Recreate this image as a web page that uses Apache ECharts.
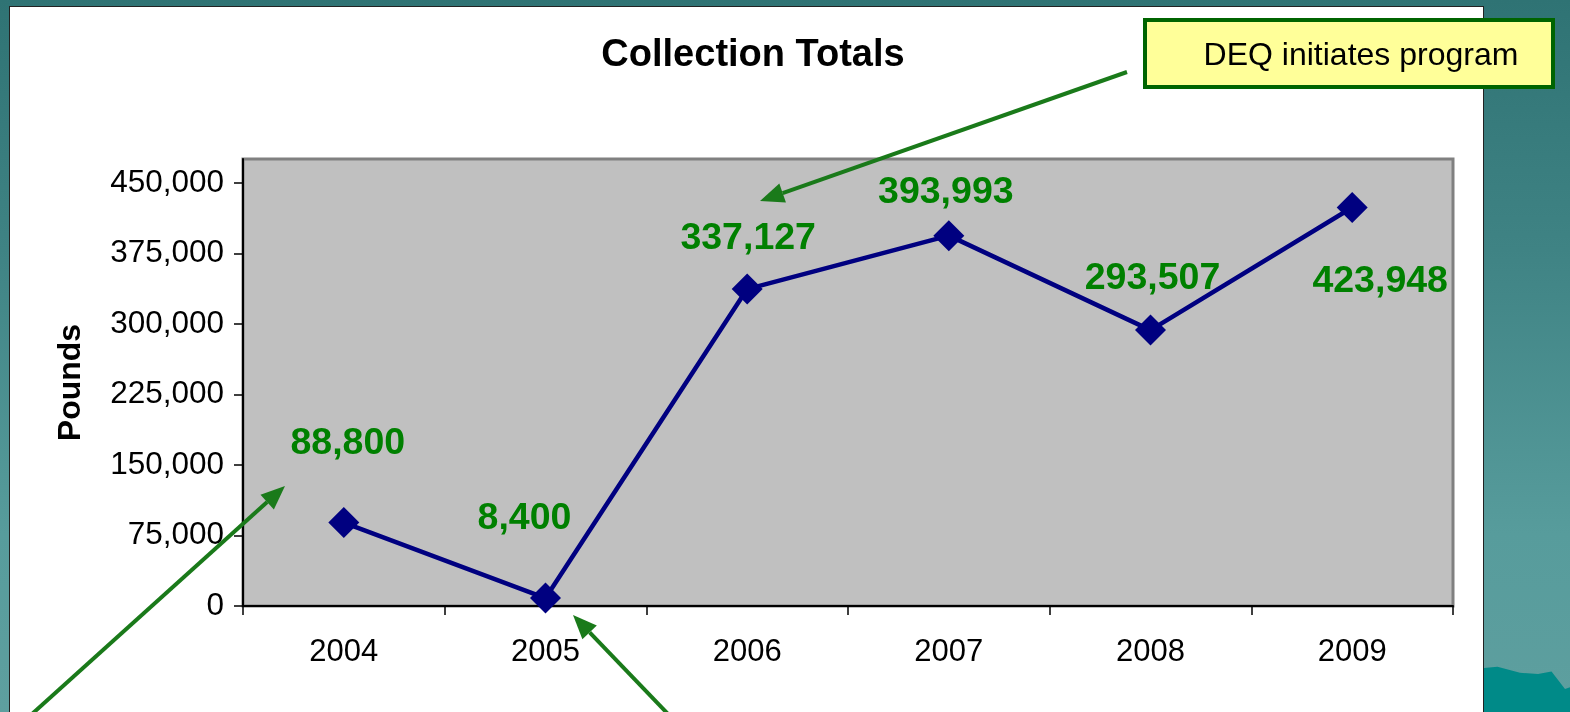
<!DOCTYPE html>
<html>
<head>
<meta charset="utf-8">
<script src="https://cdn.jsdelivr.net/npm/echarts@6/dist/echarts.min.js"></script>
<style>
  html, body { margin: 0; padding: 0; width: 1570px; height: 712px; overflow: hidden; }
  body { background: linear-gradient(180deg, #2f7374 0%, #3f8384 35%, #579c9c 75%, #5e9f9f 100%); position: relative; }
  #panel { position: absolute; left: 9px; top: 6px; width: 1475px; height: 720px; background: #ffffff; border: 1px solid #222; box-sizing: border-box; }
  #deco { position: absolute; left: 1484px; top: 662px; width: 90px; height: 60px; background: #008a88; clip-path: polygon(0 10%, 15% 8%, 40% 18%, 60% 20%, 75% 16%, 90% 45%, 100% 40%, 100% 100%, 0 100%); }
  #chart { position: absolute; left: 0; top: 0; width: 1570px; height: 712px; }
</style>
</head>
<body>
<div id="panel"></div>
<div id="deco"></div>
<div id="chart"></div>
<script>
const categories = ['2004', '2005', '2006', '2007', '2008', '2009'];
const pounds = [88800, 8400, 337127, 393993, 293507, 423948];
const yTicks = [0, 75000, 150000, 225000, 300000, 375000, 450000];
const titleText = 'Collection Totals';
const yAxisName = 'Pounds';
const calloutText = 'DEQ initiates program';

// label offsets relative to each point (style only)
const labelOffsets = [[4, -79], [-21, -79], [1, -50], [-3, -43], [2, -51], [28, 74]];

const green = '#008000';
const arrowGreen = '#1a7a1a';

function arrow(x1, y1, x2, y2) {
  const ang = Math.atan2(y2 - y1, x2 - x1);
  const L = 24, W = 10;
  const bx = x2 - L * Math.cos(ang), by = y2 - L * Math.sin(ang);
  const px = -Math.sin(ang) * W, py = Math.cos(ang) * W;
  return [
    { type: 'line', z: 100, shape: { x1: x1, y1: y1, x2: bx, y2: by }, style: { stroke: arrowGreen, lineWidth: 4 } },
    { type: 'polygon', z: 100, shape: { points: [[x2, y2], [bx + px, by + py], [bx - px, by - py]] }, style: { fill: arrowGreen } }
  ];
}

const chart = echarts.init(document.getElementById('chart'), null, { renderer: 'canvas' });
const option = {
  backgroundColor: 'transparent',
  animation: false,
  title: {
    text: titleText,
    left: 748, top: 32, textAlign: 'center',
    textStyle: { fontFamily: 'Liberation Sans', fontWeight: 'bold', fontSize: 38, color: '#000' }
  },
  grid: {
    left: 243, right: 117, top: 159, bottom: 106,
    show: true, backgroundColor: '#c0c0c0', borderColor: '#808080', borderWidth: 3
  },
  xAxis: {
    type: 'category',
    data: categories,
    boundaryGap: true,
    axisLine: { lineStyle: { color: '#000', width: 2 } },
    axisTick: { show: true, length: 9, lineStyle: { color: '#000', width: 1.5 } },
    axisLabel: { color: '#000', fontFamily: 'Liberation Sans', fontSize: 31, margin: 31 },
    splitLine: { show: false }
  },
  yAxis: {
    type: 'value',
    min: 0,
    max: 450000 * 447 / 423,
    name: yAxisName,
    nameLocation: 'middle',
    nameGap: 156,
    nameRotate: 90,
    nameTextStyle: { fontFamily: 'Liberation Sans', fontWeight: 'bold', fontSize: 32, color: '#000' },
    axisLine: { show: true, lineStyle: { color: '#000', width: 2 } },
    axisTick: { show: true, length: 9, customValues: yTicks, lineStyle: { color: '#000', width: 1.5 } },
    axisLabel: {
      color: '#000', fontFamily: 'Liberation Sans', fontSize: 31.5, margin: 19,
      customValues: yTicks,
      formatter: v => v.toLocaleString('en-US')
    },
    splitLine: { show: false }
  },
  series: [{
    type: 'line',
    data: pounds.map((v, i) => ({
      value: v,
      label: { offset: labelOffsets[i] }
    })),
    symbol: 'diamond',
    symbolSize: 31,
    lineStyle: { color: '#000080', width: 4.5 },
    itemStyle: { color: '#000080' },
    label: {
      show: true,
      position: 'inside',
      color: green,
      fontFamily: 'Liberation Sans',
      fontWeight: 'bold',
      fontSize: 37.5,
      formatter: p => p.value.toLocaleString('en-US')
    },
    z: 5
  }],
  graphic: [
    {
      type: 'rect', z: 90,
      shape: { x: 1145, y: 20, width: 408, height: 67 },
      style: { fill: '#ffff99', stroke: '#006400', lineWidth: 4 }
    },
    {
      type: 'text', z: 91,
      x: 1361, y: 56,
      style: { text: calloutText, fill: '#000', font: '32px "Liberation Sans"', textAlign: 'center', textVerticalAlign: 'middle' }
    },
    ...arrow(1127, 72, 760, 201),
    ...arrow(32, 714, 285, 486),
    ...arrow(668, 714, 573, 615)
  ]
};
chart.setOption(option);
</script>
</body>
</html>
